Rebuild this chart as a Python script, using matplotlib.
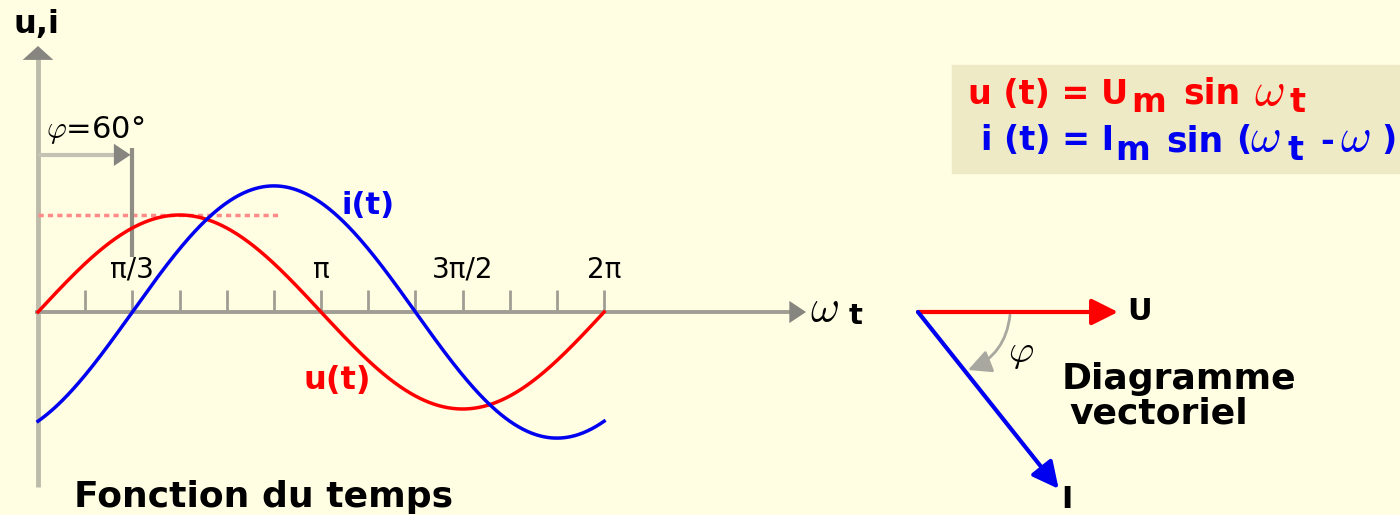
import numpy as np
import matplotlib
matplotlib.use("Agg")
import matplotlib.pyplot as plt
from matplotlib.patches import Rectangle, FancyArrowPatch

# --- data -------------------------------------------------------------
U_m = 1.0            # voltage amplitude (reference unit)
I_m = 1.3            # current amplitude, relative to U_m
phi = np.pi / 3      # phase shift 60 deg
tick_steps = np.arange(1, 13)                    # ticks every pi/6
tick_label_pos = [np.pi / 3, np.pi, 3 * np.pi / 2, 2 * np.pi]
tick_labels = ["π/3", "π", "3π/2", "2π"]
dash_end = 2.66      # end of dotted U_m level line (rad)

# phasor diagram (as drawn in the picture)
U_vec = 1.0
I_vec = 1.13
phi_vec_deg = 51.5

# --- colours ----------------------------------------------------------
BG = "#FFFDE2"
BOX = "#EDEAC5"
RED = "#FF0000"
BLUE = "#0000F0"
AXIS = "#A09E94"
AXIS_V = "#BDBBAA"
HEAD = "#86857F"

W, H = 1400, 515
X0, Y0 = 38, 312          # origin of the time plot in pixels
PX_RAD, PX_UNIT = 90.1, 97

fig = plt.figure(figsize=(W / 100, H / 100), dpi=100, facecolor=BG)

# overlay in pixel coordinates (layout / annotations)
ov = fig.add_axes([0, 0, 1, 1])
ov.set_xlim(0, W)
ov.set_ylim(H, 0)
ov.axis("off")
ov.set_facecolor(BG)

# time-domain axes: x in rad, y in amplitude units
ax = fig.add_axes([0, 0, 1, 1])
ax.set_xlim(-X0 / PX_RAD, (W - X0) / PX_RAD)
ax.set_ylim(-(H - Y0) / PX_UNIT, Y0 / PX_UNIT)
ax.axis("off")
ax.patch.set_alpha(0)

# axes arrows
ov.plot([X0, X0], [487, 56], color=AXIS_V, lw=3.5, solid_capstyle="butt")
ov.annotate("", xy=(X0, 46), xytext=(X0, 58),
            arrowprops=dict(arrowstyle="-|>,head_length=0.5,head_width=0.55",
                            color=HEAD, lw=0, mutation_scale=20, shrinkA=0, shrinkB=0))
ov.plot([X0 - 3, 792], [Y0, Y0], color=AXIS, lw=2.8, solid_capstyle="butt")
ov.annotate("", xy=(806, Y0), xytext=(790, Y0),
            arrowprops=dict(arrowstyle="-|>,head_length=0.6,head_width=0.4",
                            color=HEAD, lw=0, mutation_scale=20, shrinkA=0, shrinkB=0))

# ticks
ax.vlines(tick_steps * np.pi / 6, 0, 22 / PX_UNIT, color=AXIS, lw=2)
for pos, lab in zip(tick_label_pos, tick_labels):
    ax.text(pos, 42 / PX_UNIT, lab, ha="center", va="center", fontsize=20,
            family="DejaVu Sans", color="black")

# dotted U_m level
ax.plot([0, dash_end], [U_m, U_m], color="#FF8A8A", lw=2.5, ls=(0, (1.5, 1.2)))

# phase marker at pi/3
ax.plot([phi, phi], [1.69, 0.57], color="#908E84", lw=3, solid_capstyle="butt")
ax.plot([0, phi - 0.12], [1.62, 1.62], color="#C4C2B2", lw=3, solid_capstyle="butt")
ax.annotate("", xy=(phi - 0.02, 1.62), xytext=(phi - 0.14, 1.62),
            arrowprops=dict(arrowstyle="-|>,head_length=0.6,head_width=0.4",
                            color=HEAD, lw=0, mutation_scale=20, shrinkA=0, shrinkB=0))
ov.text(46, 130, r"$\varphi$=60°", ha="left", va="center", fontsize=22,
        color="black", math_fontfamily="cm")

# curves
t = np.linspace(0, 2 * np.pi, 500)
ax.plot(t, U_m * np.sin(t), color=RED, lw=2.5)
ax.plot(t, I_m * np.sin(t - phi), color=BLUE, lw=2.5)

# labels
bold = dict(fontweight="bold", family="DejaVu Sans")
cm = dict(math_fontfamily="cm")
ov.text(14, 24, "u,i", ha="left", va="center", fontsize=23, color="black", **bold)
ov.text(342, 206, "i(t)", ha="left", va="center", fontsize=22, color=BLUE, **bold)
ov.text(303, 380, "u(t)", ha="left", va="center", fontsize=23, color=RED, **bold)
ov.text(74, 497, "Fonction du temps", ha="left", va="center", fontsize=26,
        color="black", **bold)
ov.text(810, 308, r"$\omega$", ha="left", va="center", fontsize=32, color="black", **cm)
ov.text(849, 316, "t", ha="left", va="center", fontsize=21, color="black", **bold)

# formula box
ov.add_patch(Rectangle((952, 65), W - 952, 108, color=BOX, zorder=0))
ov.text(968, 94, "u (t) = U", ha="left", va="center", fontsize=24, color=RED, **bold)
ov.text(1131, 103, "m", ha="left", va="center", fontsize=24, color=RED, **bold)
ov.text(1183, 94, "sin", ha="left", va="center", fontsize=25, color=RED, **bold)
ov.text(1254, 92, r"$\omega$", ha="left", va="center", fontsize=34, color=RED, **cm)
ov.text(1290, 102, "t", ha="left", va="center", fontsize=24, color=RED, **bold)

ov.text(981, 141, "i (t) = I", ha="left", va="center", fontsize=24, color=BLUE, **bold)
ov.text(1115, 150, "m", ha="left", va="center", fontsize=24, color=BLUE, **bold)
ov.text(1166, 141, "sin", ha="left", va="center", fontsize=25, color=BLUE, **bold)
ov.text(1236, 141, "(", ha="left", va="center", fontsize=24, color=BLUE, **bold)
ov.text(1250, 139, r"$\omega$", ha="left", va="center", fontsize=34, color=BLUE, **cm)
ov.text(1288, 150, "t", ha="left", va="center", fontsize=24, color=BLUE, **bold)
ov.text(1320, 141, "-", ha="left", va="center", fontsize=24, color=BLUE, **bold)
ov.text(1340, 139, r"$\omega$", ha="left", va="center", fontsize=34, color=BLUE, **cm)
ov.text(1381, 141, ")", ha="left", va="center", fontsize=24, color=BLUE, **bold)

# phasor diagram
PX0, PY0, SCALE = 918, 312, 200
u_tip = (PX0 + SCALE * U_vec, PY0)
ang = np.deg2rad(phi_vec_deg)
i_tip = (PX0 + SCALE * I_vec * np.cos(ang), PY0 + SCALE * I_vec * np.sin(ang))
ov.annotate("", xy=u_tip, xytext=(PX0, PY0),
            arrowprops=dict(arrowstyle="-|>,head_length=0.8,head_width=0.4",
                            color=RED, lw=3, mutation_scale=20, shrinkA=0, shrinkB=0))
ov.annotate("", xy=i_tip, xytext=(PX0, PY0),
            arrowprops=dict(arrowstyle="-|>,head_length=0.8,head_width=0.4",
                            color=BLUE, lw=3, mutation_scale=20, shrinkA=0, shrinkB=0))
ov.add_patch(FancyArrowPatch((1010, 315), (968, 370), connectionstyle="arc3,rad=-0.3",
                             arrowstyle="-|>,head_length=0.7,head_width=0.35",
                             mutation_scale=20, color="#A8A8A0", lw=2,
                             shrinkA=0, shrinkB=0))
ov.text(1008, 352, r"$\varphi$", ha="left", va="center", fontsize=28, color="black", **cm)
ov.text(1127, 311, "U", ha="left", va="center", fontsize=22, color="black", **bold)
ov.text(1061, 500, "I", ha="left", va="center", fontsize=22, color="black", **bold)
ov.text(1062, 379, "Diagramme", ha="left", va="center", fontsize=26, color="black", **bold)
ov.text(1069, 413, "vectoriel", ha="left", va="center", fontsize=26, color="black", **bold)

fig.savefig("out.png", dpi=100, facecolor=BG)
